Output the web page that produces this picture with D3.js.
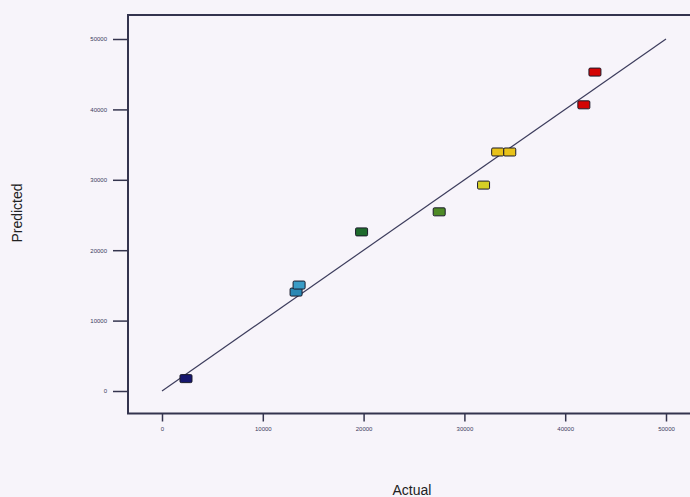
<!DOCTYPE html>
<html>
<head>
<meta charset="utf-8">
<script src="https://cdn.jsdelivr.net/npm/d3@7"></script>
<style>
  html, body { margin: 0; padding: 0; background: #f7f4fa; }
  svg { display: block; }
</style>
</head>
<body>
<svg id="chart" width="690" height="497"></svg>
<script>
// Actual vs. predicted response values
const actual    = [2380, 13300, 13600, 19800, 27500, 31900, 33300, 34500, 41850, 42950];
const predicted = [1760, 14050, 15050, 22600, 25450, 29250, 33950, 33950, 40650, 45300];
const pointColors = ["#16166e", "#2a88b4", "#3a9cc6", "#1e6a2c", "#4e8a26",
                     "#d6cf26", "#e8c21a", "#e8c21a", "#d40404", "#d40404"];
const tickValues = [0, 10000, 20000, 30000, 40000, 50000];
const lineEnds = [0, 50000];

const svg = d3.select("#chart");
const axisColor = "#34344e";

const x = d3.scaleLinear().domain([0, 50000]).range([162, 666]);
const y = d3.scaleLinear().domain([0, 50000]).range([391, 39]);

// plot frame: left, top, bottom edges
const frameLeft = 128, frameTop = 15, frameBottom = 413.5, frameRight = 692;
svg.append("path")
  .attr("d", `M${frameRight},${frameTop}H${frameLeft}V${frameBottom}H${frameRight}`)
  .attr("fill", "none")
  .attr("stroke", axisColor)
  .attr("stroke-width", 2);

// x axis ticks below the frame
const xAxis = d3.axisBottom(x).tickValues(tickValues).tickSize(8).tickPadding(5)
  .tickFormat(d3.format("d"));
const gx = svg.append("g").attr("transform", `translate(0,${frameBottom})`).call(xAxis);
gx.select(".domain").remove();
gx.selectAll(".tick line").attr("stroke", axisColor).attr("stroke-width", 1.5);
gx.selectAll(".tick text").attr("fill", "#3a3a60").attr("font-size", 6)
  .attr("font-family", "Liberation Sans, Arial, sans-serif");

// y axis ticks left of the frame
const yAxis = d3.axisLeft(y).tickValues(tickValues).tickSize(15).tickPadding(6)
  .tickFormat(d3.format("d"));
const gy = svg.append("g").attr("transform", `translate(${frameLeft},0)`).call(yAxis);
gy.select(".domain").remove();
gy.selectAll(".tick line").attr("stroke", axisColor).attr("stroke-width", 1.5);
gy.selectAll(".tick text").attr("fill", "#3a3a60").attr("font-size", 6)
  .attr("font-family", "Liberation Sans, Arial, sans-serif");

// 45-degree reference line
svg.append("line")
  .attr("x1", x(lineEnds[0])).attr("y1", y(lineEnds[0]))
  .attr("x2", x(lineEnds[1])).attr("y2", y(lineEnds[1]))
  .attr("stroke", "#3c3c5c")
  .attr("stroke-width", 1.2);

// points as small rectangles
const data = actual.map((a, i) => ({ a, p: predicted[i], c: pointColors[i] }));
const mw = 12, mh = 8;
svg.append("g").selectAll("rect")
  .data(data)
  .join("rect")
  .attr("x", d => x(d.a) - mw / 2)
  .attr("y", d => y(d.p) - mh / 2)
  .attr("width", mw)
  .attr("height", mh)
  .attr("rx", 1.2)
  .attr("fill", d => d.c)
  .attr("stroke", "#1a1a2a")
  .attr("stroke-width", 1);

// axis titles
svg.append("text")
  .attr("x", 412).attr("y", 495)
  .attr("text-anchor", "middle")
  .attr("font-family", "Liberation Sans, Arial, sans-serif")
  .attr("font-size", 14)
  .attr("fill", "#222")
  .text("Actual");

svg.append("text")
  .attr("transform", "translate(22,213) rotate(-90)")
  .attr("text-anchor", "middle")
  .attr("font-family", "Liberation Sans, Arial, sans-serif")
  .attr("font-size", 14)
  .attr("fill", "#222")
  .text("Predicted");
</script>
</body>
</html>
